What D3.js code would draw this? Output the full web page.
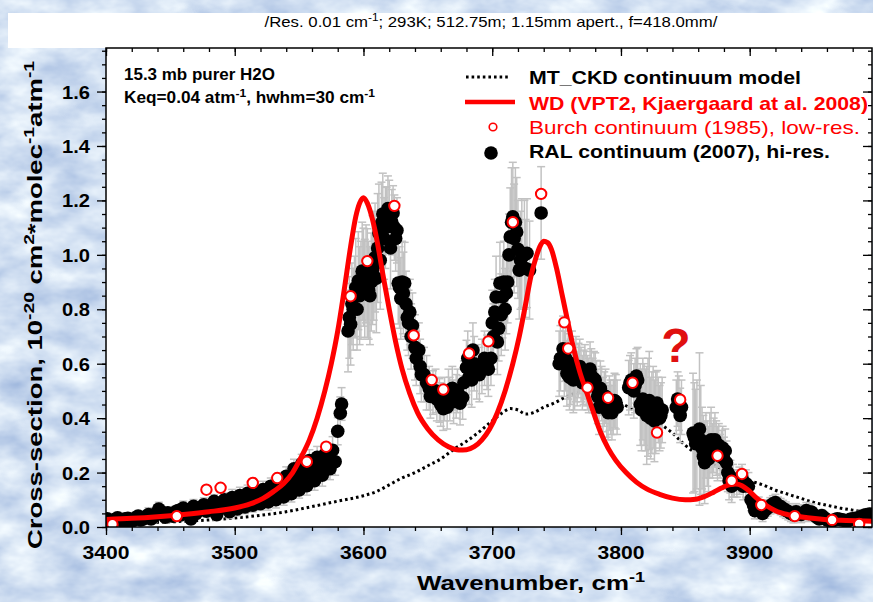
<!DOCTYPE html>
<html>
<head>
<meta charset="utf-8">
<script src="https://cdn.jsdelivr.net/npm/d3@7"></script>
<style>
body { margin: 0; background: #fff; }
svg { display: block; font-family: "Liberation Sans", Arial, sans-serif; }
</style>
</head>
<body>
<svg id="chart" width="873" height="602"></svg>
<script>
// ---- data ----
const xTicks = [3400, 3500, 3600, 3700, 3800, 3900];
const yTicks = [0.0, 0.2, 0.4, 0.6, 0.8, 1.0, 1.2, 1.4, 1.6];

// WD (VPT2) model curve: [wavenumber, cross-section]
const wdCurve = [
  [3400,0.028],[3420,0.032],[3440,0.038],[3460,0.046],[3480,0.056],[3500,0.070],[3512,0.085],
  [3522,0.105],[3530,0.130],[3538,0.160],[3545,0.200],[3552,0.260],[3558,0.320],[3564,0.400],
  [3570,0.500],[3575,0.600],[3580,0.720],[3585,0.870],[3590,1.030],[3594,1.140],[3597,1.190],
  [3600,1.210],[3603,1.190],[3607,1.130],[3611,1.040],[3615,0.930],[3620,0.800],[3625,0.680],
  [3630,0.580],[3636,0.490],[3642,0.420],[3650,0.360],[3658,0.320],[3666,0.295],[3674,0.283],
  [3680,0.284],[3686,0.295],[3692,0.320],[3698,0.360],[3704,0.420],[3710,0.500],[3716,0.600],
  [3721,0.700],[3726,0.820],[3730,0.920],[3734,0.990],[3737,1.030],[3740,1.050],[3743,1.045],
  [3746,1.020],[3750,0.950],[3754,0.860],[3758,0.770],[3763,0.660],[3768,0.570],[3773,0.500],
  [3778,0.430],[3784,0.350],[3790,0.290],[3796,0.245],[3804,0.200],[3812,0.165],[3820,0.140],
  [3830,0.120],[3840,0.106],[3850,0.100],[3858,0.102],[3865,0.112],[3872,0.128],[3878,0.143],
  [3884,0.155],[3889,0.158],[3894,0.152],[3899,0.135],[3905,0.108],[3912,0.082],[3920,0.060],
  [3930,0.045],[3945,0.034],[3960,0.027],[3975,0.024],[3995,0.021]
];

// MT_CKD continuum model (dotted)
const ckdCurve = [
  [3400,0.012],[3420,0.014],[3440,0.017],[3460,0.021],[3480,0.026],[3500,0.033],[3520,0.043],
  [3540,0.056],[3560,0.075],[3580,0.095],[3600,0.115],[3610,0.130],[3620,0.155],[3630,0.180],
  [3640,0.200],[3650,0.225],[3660,0.250],[3670,0.285],[3680,0.315],[3690,0.350],[3700,0.390],
  [3708,0.420],[3714,0.435],[3720,0.430],[3726,0.415],[3732,0.420],[3740,0.440],[3748,0.455],
  [3756,0.475],[3764,0.490],[3772,0.495],[3780,0.490],[3790,0.475],[3800,0.455],[3810,0.430],
  [3820,0.405],[3830,0.380],[3840,0.345],[3850,0.300],[3860,0.265],[3870,0.235],[3880,0.210],
  [3890,0.190],[3900,0.170],[3910,0.155],[3920,0.135],[3930,0.120],[3940,0.105],[3950,0.090],
  [3960,0.080],[3970,0.070],[3980,0.062],[3995,0.050]
];

// Burch continuum (1985), low-res. (open red circles)
const burchPoints = [
  [3405,0.010],[3455,0.040],[3478,0.137],[3489,0.144],[3514,0.162],[3533,0.180],[3556,0.240],
  [3571,0.295],[3590,0.848],[3603,0.977],[3624,1.180],[3639,0.704],[3653,0.540],[3662,0.505],
  [3682,0.638],[3697,0.682],[3716,1.120],[3738,1.224],[3756,0.752],[3759,0.656],[3774,0.512],
  [3790,0.475],[3809,0.530],[3828,0.347],[3846,0.468],[3875,0.262],[3886,0.170],[3894,0.195],
  [3909,0.081],[3935,0.040],[3964,0.026],[3985,0.011]
];

// RAL continuum (2007), hi-res.: [wavenumber, value, error]
const ralLow = [
  [3401,0.030,0.02],[3403,0.022,0.02],[3405,0.018,0.02],[3407,0.028,0.02],[3409,0.034,0.02],
  [3411,0.026,0.02],[3413,0.022,0.02],[3415,0.030,0.02],[3417,0.032,0.02],[3419,0.020,0.02],
  [3421,0.024,0.02],[3423,0.034,0.02],[3425,0.040,0.02],[3427,0.026,0.02],[3429,0.030,0.02],
  [3431,0.038,0.02],[3433,0.046,0.025],[3435,0.030,0.02],[3437,0.038,0.02],[3439,0.050,0.02],
  [3441,0.066,0.025],[3443,0.056,0.02],[3444,0.048,0.02],[3446,0.036,0.02],[3448,0.052,0.02],
  [3450,0.046,0.02],[3452,0.040,0.02],[3454,0.056,0.02],[3456,0.060,0.02],[3458,0.044,0.02],
  [3460,0.070,0.025],[3462,0.062,0.02],[3464,0.054,0.02],[3466,0.030,0.02],[3468,0.076,0.025],
  [3470,0.050,0.02],[3472,0.064,0.02],[3474,0.072,0.02],[3476,0.082,0.025],[3478,0.058,0.02],
  [3480,0.070,0.02],[3482,0.080,0.02],[3484,0.094,0.025],[3486,0.045,0.02],[3488,0.084,0.025],
  [3490,0.070,0.02],[3492,0.100,0.025],[3494,0.078,0.025],[3496,0.056,0.025],[3498,0.108,0.03],
  [3500,0.090,0.025],[3502,0.066,0.025],[3504,0.116,0.03],[3506,0.096,0.025],[3508,0.074,0.025],
  [3510,0.124,0.03],[3512,0.104,0.03],[3514,0.080,0.025],[3516,0.130,0.03],[3518,0.110,0.03],
  [3520,0.086,0.025],[3522,0.138,0.03],[3524,0.118,0.03],[3526,0.092,0.03],[3528,0.150,0.03],
  [3530,0.128,0.03],[3532,0.100,0.03],[3534,0.168,0.03],[3536,0.140,0.03],[3538,0.110,0.03],
  [3540,0.186,0.035],[3542,0.155,0.03],[3544,0.122,0.03],[3546,0.214,0.035],[3548,0.175,0.035],
  [3550,0.136,0.03],[3552,0.232,0.035],[3554,0.195,0.035],[3556,0.152,0.035],[3558,0.244,0.04],
  [3560,0.210,0.04],[3562,0.170,0.035],[3564,0.256,0.04],[3566,0.225,0.04],[3568,0.190,0.04],
  [3570,0.266,0.04],[3572,0.240,0.04],[3574,0.214,0.04],[3576,0.282,0.05],[3578,0.240,0.05],
  [3580,0.352,0.05],[3582,0.418,0.06],[3583,0.452,0.06]
];
const ralPeaks = [
  [3588,0.720,0.15],[3589,0.770,0.15],[3590,0.745,0.15],[3591,0.820,0.15],[3592,0.800,0.15],
  [3593,0.845,0.15],[3594,0.880,0.18],[3595,0.800,0.15],[3596,0.905,0.18],[3597,0.850,0.18],
  [3598,0.870,0.18],[3599,0.940,0.18],[3600,0.918,0.18],[3601,0.877,0.18],[3602,0.930,0.18],
  [3603,0.896,0.2],[3604,0.870,0.18],[3605,0.850,0.18],[3606,0.900,0.18],[3607,0.944,0.2],
  [3608,0.960,0.2],[3609,0.990,0.2],[3610,0.914,0.2],[3611,1.025,0.2],[3612,1.080,0.18],
  [3613,0.980,0.18],[3614,1.117,0.15],[3615,1.150,0.15],[3616,1.060,0.15],[3617,1.100,0.15],
  [3618,1.128,0.12],[3619,1.170,0.12],[3620,1.154,0.12],[3621,1.025,0.15],[3622,1.120,0.12],
  [3623,1.154,0.1],[3624,1.100,0.12],[3625,1.060,0.12],[3626,1.090,0.12],[3627,0.896,0.15],
  [3628,0.880,0.15],[3629,0.840,0.15],[3630,0.900,0.15],[3631,0.860,0.15],[3632,0.896,0.15],
  [3633,0.820,0.12],[3634,0.770,0.12],[3635,0.750,0.12],[3636,0.790,0.12],[3637,0.700,0.12],
  [3638,0.740,0.12],[3640,0.660,0.12],[3641,0.620,0.1],[3643,0.650,0.1],[3644,0.590,0.1],
  [3645,0.560,0.1],[3647,0.560,0.1],[3649,0.530,0.1],[3651,0.510,0.08],[3652,0.480,0.08],
  [3654,0.494,0.08],[3656,0.500,0.08],[3657,0.470,0.08],[3659,0.465,0.08],[3660,0.450,0.08],
  [3662,0.435,0.08],[3663,0.470,0.08],[3665,0.440,0.08],[3666,0.500,0.08],[3667,0.470,0.08],
  [3669,0.510,0.08],[3670,0.460,0.08],[3672,0.480,0.08],[3673,0.500,0.08],[3675,0.455,0.08],
  [3677,0.476,0.08],[3678,0.530,0.08],[3680,0.586,0.1],[3681,0.620,0.1],[3682,0.550,0.1],
  [3684,0.540,0.1],[3685,0.650,0.1],[3686,0.600,0.1],[3688,0.570,0.1],[3690,0.560,0.1],
  [3692,0.590,0.1],[3694,0.620,0.1],[3696,0.605,0.1],[3697,0.580,0.1],[3699,0.620,0.1],
  [3700,0.750,0.12],[3701,0.700,0.12],[3702,0.790,0.12],[3703,0.845,0.15],[3704,0.680,0.12],
  [3705,0.730,0.12],[3706,0.896,0.15],[3707,0.780,0.15],[3708,0.845,0.15],[3709,0.900,0.15],
  [3710,0.800,0.15],[3711,0.860,0.15],[3712,0.900,0.15],[3713,1.000,0.15],[3714,1.066,0.18],
  [3715,1.120,0.2],[3716,1.140,0.2],[3717,1.060,0.2],[3718,1.120,0.2],[3719,1.084,0.2],
  [3720,1.020,0.18],[3721,0.944,0.18],[3722,0.980,0.18],[3723,1.006,0.2],[3725,1.000,0.2],
  [3726,0.950,0.18],[3727,1.006,0.2],[3729,0.944,0.18],[3738,1.154,0.17]
];
const ralHigh = [
  [3752,0.600,0.12],[3753,0.620,0.12],[3755,0.655,0.12],[3756,0.600,0.12],[3757,0.620,0.12],
  [3758,0.564,0.12],[3759,0.590,0.12],[3760,0.550,0.12],[3761,0.570,0.12],[3762,0.600,0.12],
  [3763,0.540,0.12],[3764,0.550,0.12],[3765,0.580,0.12],[3766,0.545,0.1],[3767,0.575,0.1],
  [3768,0.590,0.1],[3769,0.560,0.1],[3770,0.530,0.1],[3771,0.550,0.1],[3772,0.570,0.1],
  [3773,0.545,0.1],[3774,0.530,0.1],[3775,0.520,0.1],[3776,0.580,0.1],[3777,0.555,0.1],
  [3778,0.520,0.1],[3779,0.545,0.1],[3780,0.540,0.1],[3781,0.512,0.1],[3782,0.480,0.1],
  [3783,0.440,0.1],[3784,0.510,0.1],[3785,0.490,0.1],[3786,0.450,0.1],[3787,0.470,0.1],
  [3788,0.480,0.1],[3789,0.430,0.1],[3790,0.420,0.1],[3791,0.455,0.1],[3792,0.440,0.1],
  [3793,0.420,0.1],[3794,0.440,0.1],[3795,0.465,0.1],[3796,0.460,0.1],[3797,0.440,0.1],
  [3806,0.512,0.1],[3807,0.530,0.1],[3808,0.540,0.1],[3810,0.500,0.1],[3811,0.520,0.1],
  [3812,0.555,0.1],[3813,0.540,0.12],[3815,0.450,0.15],[3816,0.430,0.15],[3817,0.470,0.15],
  [3818,0.450,0.15],[3819,0.430,0.15],[3820,0.410,0.18],[3821,0.440,0.18],[3822,0.465,0.18],
  [3823,0.400,0.15],[3824,0.420,0.15],[3825,0.440,0.15],[3826,0.390,0.15],[3827,0.420,0.15],
  [3828,0.455,0.12],[3829,0.430,0.12],[3830,0.400,0.12],[3831,0.410,0.12],[3832,0.430,0.12],
  [3843,0.440,0.1],[3844,0.470,0.1],[3845,0.455,0.1],[3846,0.410,0.1],[3847,0.440,0.1],
  [3856,0.345,0.22],[3857,0.330,0.2],[3858,0.306,0.2],[3859,0.340,0.2],[3861,0.360,0.28],
  [3862,0.320,0.2],[3863,0.290,0.15],[3864,0.260,0.15],[3865,0.236,0.15],[3866,0.300,0.12],
  [3867,0.270,0.12],[3868,0.250,0.12],[3869,0.300,0.12],[3870,0.320,0.12],[3871,0.280,0.1],
  [3872,0.300,0.1],[3873,0.320,0.1],[3874,0.290,0.1],[3875,0.270,0.1],[3876,0.300,0.08],
  [3877,0.260,0.08],[3878,0.275,0.08],[3879,0.290,0.08],[3880,0.250,0.08],[3881,0.280,0.08],
  [3882,0.236,0.08],[3883,0.200,0.07],[3884,0.170,0.07],[3885,0.185,0.06],[3886,0.150,0.06],
  [3887,0.170,0.06],[3888,0.160,0.05],[3890,0.160,0.05],[3892,0.170,0.05],[3894,0.180,0.05],
  [3895,0.150,0.05],[3897,0.160,0.05],[3899,0.150,0.05],[3901,0.100,0.04],[3903,0.080,0.03],
  [3904,0.060,0.03],[3905,0.070,0.03],[3907,0.080,0.03],[3908,0.060,0.03],[3910,0.050,0.03],
  [3912,0.062,0.03],[3914,0.070,0.03],[3916,0.078,0.03],[3918,0.085,0.03],[3920,0.090,0.03],
  [3922,0.080,0.03],[3924,0.075,0.03],[3926,0.068,0.03],[3928,0.062,0.03],[3930,0.056,0.03],
  [3932,0.050,0.03],[3934,0.045,0.03],[3936,0.056,0.03],[3938,0.050,0.03],[3940,0.046,0.03],
  [3942,0.052,0.03],[3944,0.060,0.03],[3946,0.050,0.03],[3948,0.055,0.03],[3950,0.044,0.02],
  [3952,0.036,0.02],[3954,0.030,0.02],[3956,0.042,0.02],[3958,0.034,0.02],[3960,0.026,0.02],
  [3962,0.024,0.02],[3964,0.022,0.02],[3966,0.026,0.02],[3968,0.030,0.02],[3970,0.028,0.02],
  [3972,0.026,0.02],[3974,0.024,0.02],[3976,0.022,0.02],[3978,0.028,0.02],[3980,0.030,0.02],
  [3982,0.032,0.02],[3985,0.035,0.02],[3987,0.040,0.02],[3990,0.045,0.02],[3993,0.048,0.02]
];
const ralPoints = ralLow.concat(ralPeaks, ralHigh);

const legendLabels = [
  "MT_CKD continuum model",
  "WD (VPT2, Kjaergaard at al. 2008)",
  "Burch continuum (1985), low-res.",
  "RAL continuum (2007), hi-res."
];

// ---- layout ----
const svg = d3.select("#chart");
const plot = {left: 106, right: 872, top: 48, bottom: 527};

const x = d3.scaleLinear().domain([3400, 3995]).range([plot.left, plot.right]);
const y = d3.scaleLinear().domain([0, 1.76]).range([plot.bottom, plot.top]);

// background texture
const defs = svg.append("defs");
const filt = defs.append("filter").attr("id", "cloud")
    .attr("x", 0).attr("y", 0).attr("width", "100%").attr("height", "100%")
    .attr("color-interpolation-filters", "sRGB");
filt.append("feTurbulence").attr("type", "fractalNoise")
    .attr("baseFrequency", "0.02 0.035").attr("numOctaves", 4).attr("seed", 7);
filt.append("feColorMatrix").attr("type", "matrix")
    .attr("values", "0.45 0 0 0 0.6  0.36 0 0 0 0.7  0.18 0 0 0 0.86  0 0 0 0 1");

defs.append("clipPath").attr("id", "plotclip")
  .append("rect")
    .attr("x", plot.left).attr("y", plot.top)
    .attr("width", plot.right - plot.left).attr("height", plot.bottom - plot.top);

svg.append("rect").attr("width", 873).attr("height", 602).attr("filter", "url(#cloud)");
svg.append("rect").attr("x", 8).attr("y", 13).attr("width", 865).attr("height", 35).attr("fill", "#fff");
svg.append("rect")
    .attr("x", plot.left).attr("y", plot.top)
    .attr("width", plot.right - plot.left).attr("height", plot.bottom - plot.top)
    .attr("fill", "#fff");

// text helper: parts = [[string, isSuperscript], ...]
function addText(parent, px, py, parts, o) {
  const t = parent.append("text")
      .attr("x", px).attr("y", py)
      .attr("font-size", o.size)
      .attr("font-weight", o.bold ? "bold" : "normal")
      .attr("fill", o.color || "#000")
      .attr("text-anchor", o.anchor || "start");
  if (o.len) t.attr("textLength", o.len).attr("lengthAdjust", "spacingAndGlyphs");
  if (o.transform) t.attr("transform", o.transform);
  parts.forEach(p => {
    const s = t.append("tspan").text(p[0]);
    if (p[1]) s.attr("baseline-shift", "super").attr("font-size", o.size * 0.7);
  });
  return t;
}

// ---- data marks ----
const marks = svg.append("g").attr("clip-path", "url(#plotclip)");

const lineGen = d3.line()
    .x(d => x(d[0]))
    .y(d => y(d[1]))
    .curve(d3.curveMonotoneX);

// MT_CKD dotted
marks.append("path")
    .datum(ckdCurve)
    .attr("d", lineGen)
    .attr("fill", "none")
    .attr("stroke", "#000")
    .attr("stroke-width", 3)
    .attr("stroke-dasharray", "2.6,3");

// error bars
const eb = marks.append("g").attr("stroke", "#c2c2c2").attr("stroke-width", 1.5);
ralPoints.forEach(d => {
  const cx = x(d[0]), y1 = y(d[1] + d[2]), y2 = y(d[1] - d[2]);
  eb.append("line").attr("x1", cx).attr("x2", cx).attr("y1", y1).attr("y2", y2);
  eb.append("line").attr("x1", cx - 4).attr("x2", cx + 4).attr("y1", y1).attr("y2", y1);
  eb.append("line").attr("x1", cx - 4).attr("x2", cx + 4).attr("y1", y2).attr("y2", y2);
});

// RAL points
marks.append("g").selectAll("circle")
  .data(ralPoints)
  .join("circle")
    .attr("cx", d => x(d[0]))
    .attr("cy", d => y(d[1]))
    .attr("r", 6.8)
    .attr("fill", "#000");

// WD curve
marks.append("path")
    .datum(wdCurve)
    .attr("d", lineGen)
    .attr("fill", "none")
    .attr("stroke", "#ff0000")
    .attr("stroke-width", 5)
    .attr("stroke-linejoin", "round");

// Burch points
marks.append("g").selectAll("circle")
  .data(burchPoints)
  .join("circle")
    .attr("cx", d => x(d[0]))
    .attr("cy", d => y(d[1]))
    .attr("r", 5.2)
    .attr("fill", "#fff")
    .attr("stroke", "#ff0000")
    .attr("stroke-width", 2);

// ---- axes ----
const minorX = d3.range(3400, 3995, 20);
const minorY = d3.range(0, 1.76, 0.05);

function tickAxis(axis, tf) {
  const g = svg.append("g").attr("transform", tf).call(axis);
  g.select(".domain").remove();
  g.selectAll("line").attr("stroke", "#000").attr("stroke-width", 1.3);
  g.selectAll("text").remove();
  return g;
}
tickAxis(d3.axisBottom(x).tickValues(minorX).tickSize(4), `translate(0,${plot.bottom})`);
tickAxis(d3.axisBottom(x).tickValues(xTicks).tickSize(8), `translate(0,${plot.bottom})`);
tickAxis(d3.axisTop(x).tickValues(minorX).tickSize(-4), `translate(0,${plot.top})`);
tickAxis(d3.axisTop(x).tickValues(xTicks).tickSize(-8), `translate(0,${plot.top})`);
tickAxis(d3.axisLeft(y).tickValues(minorY).tickSize(4), `translate(${plot.left},0)`);
tickAxis(d3.axisLeft(y).tickValues(yTicks).tickSize(9), `translate(${plot.left},0)`);
tickAxis(d3.axisRight(y).tickValues(minorY).tickSize(-4), `translate(${plot.right},0)`);
tickAxis(d3.axisRight(y).tickValues(yTicks).tickSize(-9), `translate(${plot.right},0)`);

svg.append("rect")
    .attr("x", plot.left).attr("y", plot.top)
    .attr("width", plot.right - plot.left).attr("height", plot.bottom - plot.top)
    .attr("fill", "none").attr("stroke", "#000").attr("stroke-width", 1.5);

// tick labels
xTicks.forEach(v => addText(svg, x(v), 559, [[String(v)]], {size: 19, bold: true, anchor: "middle", len: 47}));
yTicks.forEach(v => addText(svg, 90, y(v) + 7, [[v.toFixed(1)]], {size: 19, bold: true, anchor: "end", len: 28}));

// axis titles
addText(svg, 531, 590, [["Wavenumber, cm"], ["-1", true]], {size: 21, bold: true, anchor: "middle", len: 228});
addText(svg, 0, 0,
  [["Cross-section,  10"], ["-20", true], [" cm"], ["2", true], ["*molec"], ["-1", true], ["atm"], ["-1", true]],
  {size: 21, bold: true, anchor: "middle", len: 488, transform: "translate(42,305) rotate(-90)"});

// header
addText(svg, 491, 27,
  [["/Res. 0.01 cm"], ["-1", true], ["; 293K; 512.75m; 1.15mm apert., f=418.0mm/"]],
  {size: 15, anchor: "middle", len: 453});

// annotations
addText(svg, 124, 80, [["15.3 mb purer H2O"]], {size: 16, bold: true, len: 151});
addText(svg, 124, 103, [["Keq=0.04 atm"], ["-1", true], [", hwhm=30 cm"], ["-1", true]], {size: 16, bold: true, len: 251});
addText(svg, 676, 362, [["?"]], {size: 48, bold: true, color: "#e01010", anchor: "middle"});

// ---- legend ----
const lg = svg.append("g");
lg.append("line").attr("x1", 466).attr("x2", 510).attr("y1", 77).attr("y2", 77)
    .attr("stroke", "#000").attr("stroke-width", 3).attr("stroke-dasharray", "2.6,3");
lg.append("line").attr("x1", 465).attr("x2", 515).attr("y1", 102).attr("y2", 102)
    .attr("stroke", "#ff0000").attr("stroke-width", 4.5);
lg.append("circle").attr("cx", 493).attr("cy", 127).attr("r", 3.8)
    .attr("fill", "#fff").attr("stroke", "#ff0000").attr("stroke-width", 1.6);
lg.append("circle").attr("cx", 491).attr("cy", 153).attr("r", 6.8).attr("fill", "#000");

addText(lg, 529, 84, [[legendLabels[0]]], {size: 19, bold: true, len: 272});
addText(lg, 529, 110, [[legendLabels[1]]], {size: 19, bold: true, color: "#ff0000", len: 339});
addText(lg, 529, 134, [[legendLabels[2]]], {size: 19, color: "#ff0000", len: 331});
addText(lg, 529, 158, [[legendLabels[3]]], {size: 19, bold: true, len: 301});
</script>
</body>
</html>
